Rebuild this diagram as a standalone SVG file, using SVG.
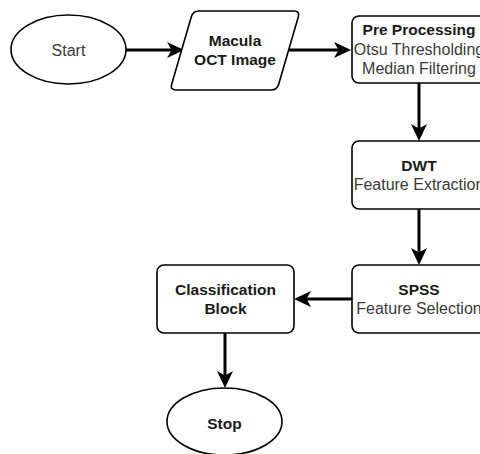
<svg xmlns="http://www.w3.org/2000/svg" width="480" height="454" viewBox="0 0 480 454">
  <style>
    .shape { fill: #ffffff; stroke: #000000; stroke-width: 1.6; }
    .edge { fill: none; stroke: #000000; stroke-width: 3; }
    .t { font-family: "Liberation Sans", Arial, sans-serif; font-size: 16px; text-anchor: middle; fill: #3a3a3a; }
    .b { font-weight: bold; font-size: 15.5px; fill: #1a1a1a; }
  </style>
  <defs>
    <marker id="arrow" viewBox="0 0 17 16" markerUnits="userSpaceOnUse" markerWidth="17" markerHeight="16" refX="7" refY="8" orient="auto">
      <path d="M0,0 L17,8 L0,16 L4.5,8 Z" fill="#000000"/>
    </marker>
  </defs>

  <!-- connectors -->
  <g id="edges">
    <path class="edge" d="M126,50 L174,50" marker-end="url(#arrow)"/>
    <path class="edge" d="M288.5,50 L341,50" marker-end="url(#arrow)"/>
    <path class="edge" d="M419,83 L419,131" marker-end="url(#arrow)"/>
    <path class="edge" d="M419,209 L419,255" marker-end="url(#arrow)"/>
    <path class="edge" d="M352,299 L304,299" marker-end="url(#arrow)"/>
    <path class="edge" d="M225,333 L225,378" marker-end="url(#arrow)"/>
  </g>

  <g id="start">
    <ellipse class="shape" cx="68.5" cy="49.5" rx="57.5" ry="34.5"/>
    <text class="t" x="68.5" y="55.5">Start</text>
  </g>

  <g id="input">
    <path class="shape" d="M199,11 L294,11 Q300,11 298.32,16.76 L278.68,84.24 Q277,90 271,90 L176,90 Q170,90 171.68,84.24 L191.32,16.76 Q193,11 199,11 Z"/>
    <text class="t b" x="235" y="45.5">Macula</text>
    <text class="t b" x="235" y="64.5">OCT Image</text>
  </g>

  <g id="preprocessing">
    <rect class="shape" x="352" y="16" width="134" height="67" rx="7"/>
    <text class="t b" x="419" y="35">Pre Processing</text>
    <text class="t" x="419" y="54.5">Otsu Thresholding</text>
    <text class="t" x="419" y="73.5">Median Filtering</text>
  </g>

  <g id="dwt">
    <rect class="shape" x="352" y="141" width="134" height="68" rx="7"/>
    <text class="t b" x="419" y="170.5">DWT</text>
    <text class="t" x="419" y="190">Feature Extraction</text>
  </g>

  <g id="spss">
    <rect class="shape" x="352" y="265" width="134" height="68" rx="7"/>
    <text class="t b" x="419" y="295">SPSS</text>
    <text class="t" x="419" y="314">Feature Selection</text>
  </g>

  <g id="classification">
    <rect class="shape" x="157" y="265" width="137" height="68" rx="7"/>
    <text class="t b" x="225.5" y="295">Classification</text>
    <text class="t b" x="225.5" y="314">Block</text>
  </g>

  <g id="stop">
    <ellipse class="shape" cx="224.5" cy="421.5" rx="57.5" ry="33.5"/>
    <text class="t b" x="224.5" y="429">Stop</text>
  </g>
</svg>
